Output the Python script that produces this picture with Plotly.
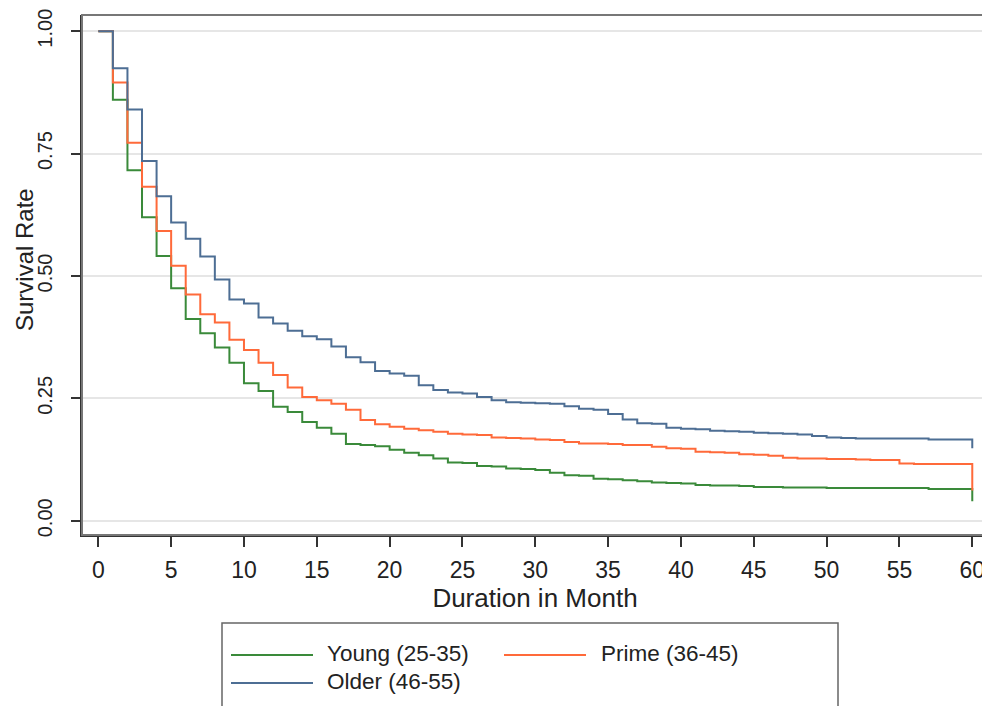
import plotly.graph_objects as go

months = list(range(0, 61))

young = [1.000, 0.860, 0.716, 0.620, 0.541, 0.475, 0.412, 0.383, 0.354, 0.323,
         0.281, 0.265, 0.233, 0.222, 0.202, 0.190, 0.178, 0.157, 0.155, 0.152,
         0.145, 0.139, 0.134, 0.127, 0.119, 0.118, 0.112, 0.111, 0.107, 0.106,
         0.104, 0.098, 0.093, 0.092, 0.086, 0.085, 0.083, 0.081, 0.078, 0.077,
         0.076, 0.073, 0.072, 0.072, 0.071, 0.069, 0.069, 0.068, 0.068, 0.068,
         0.067, 0.067, 0.067, 0.067, 0.067, 0.067, 0.067, 0.065, 0.065, 0.065,
         0.040]

prime = [1.000, 0.895, 0.772, 0.682, 0.592, 0.521, 0.462, 0.422, 0.405, 0.370,
         0.349, 0.323, 0.298, 0.272, 0.253, 0.246, 0.239, 0.227, 0.206, 0.197,
         0.192, 0.188, 0.185, 0.182, 0.178, 0.176, 0.175, 0.170, 0.169, 0.168,
         0.166, 0.165, 0.161, 0.158, 0.158, 0.157, 0.155, 0.155, 0.151, 0.148,
         0.147, 0.141, 0.140, 0.139, 0.136, 0.135, 0.133, 0.129, 0.127, 0.127,
         0.126, 0.126, 0.125, 0.124, 0.124, 0.117, 0.116, 0.116, 0.116, 0.116,
         0.062]

older = [1.000, 0.924, 0.840, 0.735, 0.663, 0.609, 0.576, 0.540, 0.493, 0.452,
         0.444, 0.415, 0.403, 0.388, 0.377, 0.371, 0.356, 0.334, 0.324, 0.306,
         0.301, 0.296, 0.277, 0.267, 0.262, 0.260, 0.253, 0.246, 0.242, 0.241,
         0.240, 0.239, 0.234, 0.229, 0.227, 0.218, 0.207, 0.199, 0.198, 0.190,
         0.188, 0.187, 0.184, 0.183, 0.182, 0.180, 0.179, 0.178, 0.176, 0.173,
         0.170, 0.169, 0.168, 0.168, 0.168, 0.168, 0.168, 0.166, 0.166, 0.166,
         0.148]

series_names = ["Young (25-35)", "Prime (36-45)", "Older (46-55)"]
series_colors = ["#3a8a3a", "#ff6a3a", "#4d6e94"]

y_ticks = [0, 0.25, 0.5, 0.75, 1.0]
y_ticktext = ["0.00", "0.25", "0.50", "0.75", "1.00"]
x_ticks = list(range(0, 61, 5))

W, H = 982, 698
L, R, T, B = 74, 2, 7, 171
pw, ph = W - L - R, H - T - B

def px(x):
    return (x - L) / pw

def py(y):
    return (H - B - y) / ph

fig = go.Figure()
for name, vals, col in zip(series_names, [young, prime, older], series_colors):
    fig.add_trace(go.Scatter(x=months, y=vals, mode="lines", name=name,
                             line=dict(color=col, width=2, shape="hv"),
                             showlegend=False))

font_fam = "Liberation Sans, Arial, sans-serif"

fig.update_layout(
    width=W, height=H,
    margin=dict(l=L, r=R, t=T, b=B, autoexpand=False),
    paper_bgcolor="white", plot_bgcolor="white",
    font=dict(family=font_fam, color="#222222"),
    xaxis=dict(range=[-1.12, 61.08], tickvals=x_ticks, showgrid=False, zeroline=False,
               showline=True, linecolor="#333333", linewidth=2,
               ticks="outside", ticklen=10, tickwidth=1.5, tickcolor="#333333",
               tickfont=dict(size=23), ticklabelstandoff=3,
               ticklabeloverflow="allow",
               title=dict(text="Duration in Month", font=dict(size=26), standoff=0)),
    yaxis=dict(range=[-0.029, 1.033], tickvals=y_ticks, ticktext=y_ticktext,
               tickangle=-90, showgrid=True, gridcolor="#e6e6e6", gridwidth=2,
               zeroline=False, showline=True, linecolor="#333333", linewidth=2,
               ticks="outside", ticklen=9, tickwidth=1.5, tickcolor="#333333",
               tickfont=dict(size=20), ticklabelstandoff=11,
               ticklabeloverflow="allow"),
)

# y-axis title
fig.add_annotation(xref="paper", yref="paper", x=px(16), y=py(252),
                   text="Survival Rate", textangle=-90, showarrow=False,
                   xanchor="center", yanchor="middle",
                   font=dict(size=24, color="#222222"))

# plot region frame
fig.add_shape(type="rect", xref="paper", yref="paper", x0=0, y0=0, x1=1, y1=1,
              line=dict(color="#777777", width=2), layer="above")

# custom legend box (bottom edge runs past the page, as in the reference)
fig.add_shape(type="rect", xref="paper", yref="paper",
              x0=px(214), x1=px(830), y0=py(712), y1=py(615),
              line=dict(color="#666666", width=1.5))
leg_items = [(0, 223, 305, 317, 647), (1, 496, 578, 591, 647), (2, 223, 305, 317, 675)]
for idx, lx0, lx1, tx, ly in leg_items:
    fig.add_shape(type="line", xref="paper", yref="paper",
                  x0=px(lx0), x1=px(lx1), y0=py(ly), y1=py(ly),
                  line=dict(color=series_colors[idx], width=2))
    fig.add_annotation(xref="paper", yref="paper", x=px(tx), y=py(ly - 2),
                       text=series_names[idx], showarrow=False, xanchor="left",
                       yanchor="middle", font=dict(size=22.5, color="#222222"))

fig.write_html("out.html")
